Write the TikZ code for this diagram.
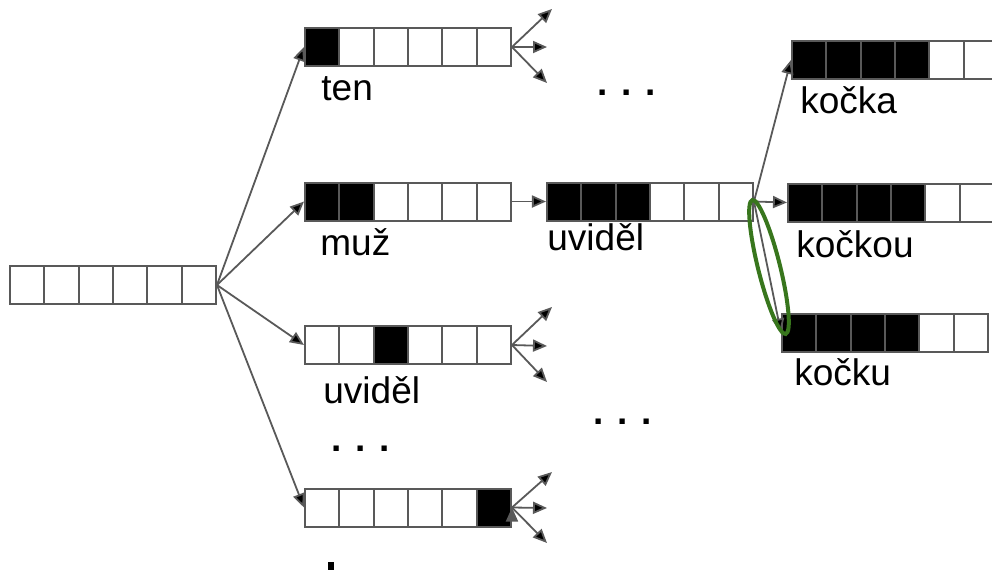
\documentclass[tikz,border=0pt]{standalone}
\usepackage{fontspec}
\setmainfont{Liberation Sans}
\usetikzlibrary{arrows.meta,calc}

\definecolor{linegray}{HTML}{595959}
\definecolor{hlgreen}{HTML}{38761D}

% one row of six cells, #1 name, #2 left middle point, #3 fill of each cell
\newcommand{\wordbox}[3]{%
  \foreach \f [count=\i] in {#3}
    \node[cell, fill=\f] (#1\i) at ($(#2)+(\i*34.33-17.17,0)$) {};
}

\begin{document}
\begin{tikzpicture}[x=0.5pt, y=-0.5pt,
    cell/.style = {draw=linegray, line width=1pt, minimum width=17.17pt, minimum height=19pt, inner sep=0pt},
    arr/.style = {draw=linegray, line width=0.9pt, -{Triangle[length=7pt,width=6pt]}},
    word/.style = {anchor=base west, inner sep=0pt, font=\fontsize{18.5}{22}\selectfont},
    hl/.style = {draw=hlgreen, line width=2pt}]
  \useasboundingbox (0,0) rectangle (992,569);

  % input and the first layer
  \wordbox{in}{10,285}{white,white,white,white,white,white}
  \wordbox{ten}{305,47}{black,white,white,white,white,white}
  \wordbox{muz}{305,201.5}{black,black,white,white,white,white}
  \wordbox{uvid}{305,345}{white,white,black,white,white,white}
  \wordbox{last}{305,507.5}{white,white,white,white,white,black}

  % second and third layer
  \wordbox{mid}{547,201.5}{black,black,black,white,white,white}
  \wordbox{kocka}{792,60}{black,black,black,black,white,white}
  \wordbox{kockou}{788,202.5}{black,black,black,black,white,white}
  \wordbox{kocku}{782,332.5}{black,black,black,black,white,white}

  \node[word] (w1) at (321,100) {ten};
  \node[word] (w2) at (320,255) {muž};
  \node[word] (w3) at (323,403) {uviděl};
  \node[word] (w4) at (547,250) {uviděl};
  \node[word] (w5) at (800,113) {kočka};
  \node[word] (w6) at (796,257) {kočkou};
  \node[word] (w7) at (794,385) {kočku};

  \node[word, font=\fontsize{18.5}{22}\selectfont\bfseries] (d1) at (597,95) {. . .};
  \node[word, font=\fontsize{18.5}{22}\selectfont\bfseries] (d2) at (593,424) {. . .};
  \node[word, font=\fontsize{18.5}{22}\selectfont\bfseries] (d3) at (331,451) {. . .};
  \fill (328,562) rectangle (334,572);

  % loose ends of the branches
  \coordinate (ten-a) at (552,9);
  \coordinate (ten-b) at (547,47);
  \coordinate (ten-c) at (547,83);
  \coordinate (uvid-a) at (552,307);
  \coordinate (uvid-b) at (547,346);
  \coordinate (uvid-c) at (547,382);
  \coordinate (last-a) at (552,472);
  \coordinate (last-b) at (547,508);
  \coordinate (last-c) at (547,543);

  \draw[arr]
  (in6.east) edge (ten1.west)
  (in6.east) edge (muz1.west)
  (in6.east) edge (uvid1.west)
  (in6.east) edge (last1.west)
  (muz6.east) edge (mid1.west)
  (mid6.east) edge (kocka1.west)
  (mid6.east) edge (kockou1.west)
  (mid6.east) edge (kocku1.west)
  (ten6.east) edge (ten-a)
  (ten6.east) edge (ten-b)
  (ten6.east) edge (ten-c)
  (uvid6.east) edge (uvid-a)
  (uvid6.east) edge (uvid-b)
  (uvid6.east) edge (uvid-c)
  (last6.east) edge (last-a)
  (last6.east) edge (last-b)
  (last6.east) edge (last-c)
  ;

  \draw[hl, rotate around={14:(769,267)}] (769,267) ellipse [x radius=11, y radius=69];
\end{tikzpicture}
\end{document}
